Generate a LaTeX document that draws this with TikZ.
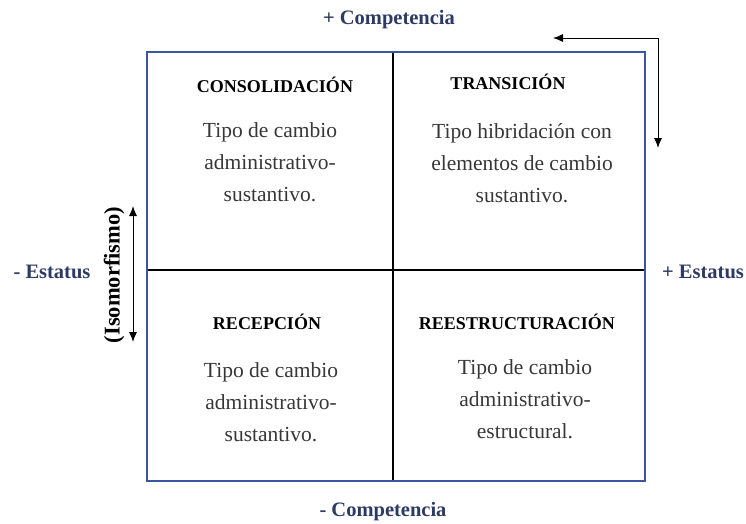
\documentclass[tikz,border=0pt]{standalone}
\usepackage{fontspec}
\setmainfont{Liberation Serif}
\usetikzlibrary{arrows.meta}

\definecolor{marco}{RGB}{59,86,160}
\definecolor{eje}{RGB}{44,58,100}
\definecolor{texto}{RGB}{55,55,55}

\tikzset{
	titulo/.style={font=\fontsize{18}{22}\selectfont\bfseries, text=black, inner sep=0pt},
	cuerpo/.style={font=\fontsize{21.5}{32}\selectfont, text=texto, align=center, inner sep=0pt},
	etiqueta/.style={font=\fontsize{20.5}{24}\selectfont\bfseries, text=eje, inner sep=0pt},
	flecha/.style={{Latex[length=10pt,width=8pt]}-{Latex[length=10pt,width=8pt]}, line width=1pt}
}

\begin{document}
\begin{tikzpicture}[x=1pt,y=-1pt]
	\useasboundingbox (0,0) rectangle (746,523);

	% cruz interior y marco
	\draw[line width=1.4pt] (393,52) -- (393,481);
	\draw[line width=1.4pt] (147,270) -- (645,270);
	\draw[marco, line width=1.8pt] (147,52) rectangle (645,481);

	% cuadrantes
	\node[titulo] (consol) at (275,85) {CONSOLIDACIÓN};
	\node[cuerpo] (consolt) at (270,162) {Tipo de cambio\\administrativo-\\sustantivo.};

	\node[titulo] (trans) at (508,82) {TRANSICIÓN};
	\node[cuerpo] (transt) at (522,163) {Tipo hibridación con\\elementos de cambio\\sustantivo.};

	\node[titulo] (recep) at (267,322) {RECEPCIÓN};
	\node[cuerpo] (recept) at (271,402) {Tipo de cambio\\administrativo-\\sustantivo.};

	\node[titulo] (reest) at (517,322) {REESTRUCTURACIÓN};
	\node[cuerpo] (reestt) at (525,399) {Tipo de cambio\\administrativo-\\estructural.};

	% ejes
	\node[etiqueta] (compmas) at (389,20) {+ Competencia};
	\node[etiqueta] (compmenos) at (383,512) {- Competencia};
	\node[etiqueta] (estmenos) at (52,272) {- Estatus};
	\node[etiqueta] (estmas) at (703,272) {+ Estatus};

	% isomorfismo
	\node[etiqueta, text=black, rotate=90, font=\fontsize{22.5}{24}\selectfont\bfseries] (iso) at (114,275) {(Isomorfismo)};
	\coordinate (isoa) at (133,206);
	\coordinate (isob) at (133,342);
	\draw[flecha] (isoa) -- (isob);

	% flecha de esquina
	\coordinate (esqa) at (553,38);
	\coordinate (esqb) at (658,38);
	\coordinate (esqc) at (658,148);
	\draw[flecha] (esqa) -- (esqb) -- (esqc);

\end{tikzpicture}
\end{document}
